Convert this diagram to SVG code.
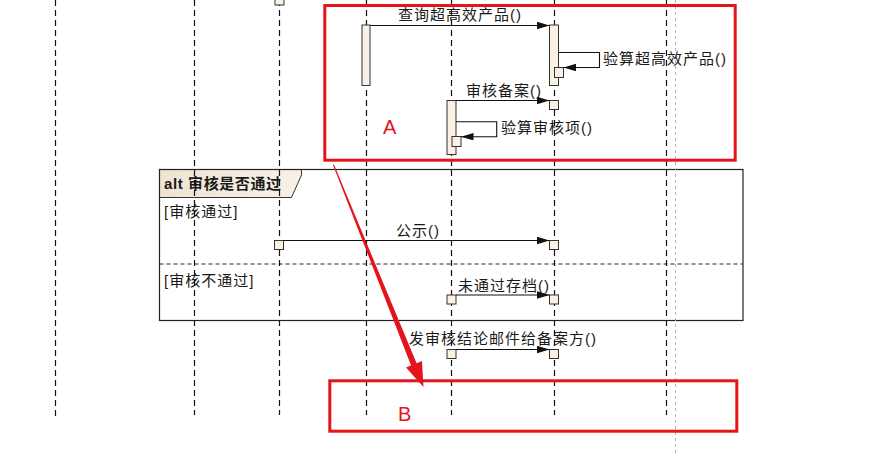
<svg xmlns="http://www.w3.org/2000/svg" width="888" height="453" viewBox="0 0 888 453">
<style>
.ll{stroke:#111;stroke-width:1.2;stroke-dasharray:6,4;fill:none}
.act{fill:#fbf0e4;stroke:#333;stroke-width:1}
.msg{stroke:#111;stroke-width:1.1;fill:none}
.t{font-family:"Liberation Sans","Noto Sans CJK SC",sans-serif;font-size:15px;letter-spacing:1px;fill:#1a1a1a}
.red{fill:none;stroke:#e3141c;stroke-width:3}
.rt{font-family:"Liberation Sans",sans-serif;font-size:20px;fill:#e3141c}
</style>
<defs>
<marker id="ah" markerUnits="userSpaceOnUse" markerWidth="13" markerHeight="8" refX="12.5" refY="3.75" orient="auto">
<path d="M0,0 L12.5,3.75 L0,7.5 z" fill="#111"/>
</marker>
<linearGradient id="tabg" x1="0" y1="0" x2="1" y2="0">
<stop offset="0" stop-color="#efe3d2"/>
<stop offset="1" stop-color="#f8f1e8"/>
</linearGradient>
</defs>
<rect x="0" y="0" width="888" height="453" fill="#ffffff"/>

<g id="alt-frame">
<path d="M159,169.5 H301.5 V175 L291.5,197.5 H159 Z" fill="url(#tabg)" stroke="none"/>
<path d="M159,197.5 H291.5 L301.5,175 V169.5" fill="none" stroke="#333" stroke-width="1"/>
<rect x="159.5" y="169.5" width="583.5" height="151" fill="none" stroke="#222" stroke-width="1.2"/>
<line x1="159.5" y1="264" x2="743" y2="264" stroke="#222" stroke-width="1" stroke-dasharray="4,3"/>
<text x="164" y="189" class="t" style="font-weight:bold;letter-spacing:0.6px">alt 审核是否通过</text>
<text x="164" y="217" class="t">[审核通过]</text>
<text x="164" y="286" class="t">[审核不通过]</text>
</g>

<g id="lifelines">
<line class="ll" x1="55.5" y1="0" x2="55.5" y2="416"/>
<line class="ll" x1="194.5" y1="0" x2="194.5" y2="415"/>
<line class="ll" x1="279.5" y1="0" x2="279.5" y2="415"/>
<line class="ll" x1="366.5" y1="0" x2="366.5" y2="415"/>
<line class="ll" x1="451.5" y1="0" x2="451.5" y2="415"/>
<line class="ll" x1="554.5" y1="0" x2="554.5" y2="415"/>
<line class="ll" x1="666.5" y1="0" x2="666.5" y2="415"/>
<line x1="675.5" y1="0" x2="675.5" y2="453" stroke="#b5b5b5" stroke-width="1" stroke-dasharray="3,3"/>
</g>

<g id="activations">
<rect class="act" x="275" y="-4" width="9" height="9"/>
<rect class="act" x="362" y="25" width="8" height="60.5"/>
<rect class="act" x="549.5" y="25" width="9" height="60.5"/>
<rect class="act" x="554.5" y="67.5" width="9" height="10"/>
<rect class="act" x="549.5" y="100.5" width="9" height="9"/>
<rect class="act" x="447" y="100.5" width="9" height="54"/>
<rect class="act" x="452" y="136.5" width="9" height="10"/>
<rect class="act" x="274.5" y="240.5" width="9" height="9"/>
<rect class="act" x="549.5" y="240.5" width="9" height="9"/>
<rect class="act" x="447" y="295" width="9" height="9"/>
<rect class="act" x="549.5" y="295" width="9" height="9"/>
<rect class="act" x="447" y="349.5" width="9" height="9"/>
<rect class="act" x="549.5" y="349.5" width="9" height="9"/>
</g>

<g id="connectors">
<path class="msg" d="M370,25.5 H549.5" marker-end="url(#ah)"/>
<path class="msg" d="M558.5,52.5 H599.5 V67.5 H563.5" marker-end="url(#ah)"/>
<path class="msg" d="M456,100.5 H549.5" marker-end="url(#ah)"/>
<path class="msg" d="M456,121.7 H496.7 V136.7 H461" marker-end="url(#ah)"/>
<path class="msg" d="M283.5,240.5 H549.5" marker-end="url(#ah)"/>
<path class="msg" d="M456,295 H549.5" marker-end="url(#ah)"/>
<path class="msg" d="M456,349.5 H549.5" marker-end="url(#ah)"/>
</g>

<g id="labels">
<text x="398" y="20" class="t">查询超高效产品()</text>
<text x="603" y="64" class="t">验算超高效产品()</text>
<text x="466" y="96" class="t">审核备案()</text>
<text x="501" y="133" class="t">验算审核项()</text>
<text x="396" y="236" class="t">公示()</text>
<text x="458" y="291" class="t">未通过存档()</text>
<text x="409" y="344" class="t">发审核结论邮件给备案方()</text>
</g>

<g id="box-A">
<rect class="red" x="324.8" y="5.5" width="410.4" height="154.7"/>
<text x="383" y="133.5" class="rt">A</text>
</g>
<g id="box-B">
<rect class="red" x="329.8" y="380.8" width="407" height="50.4"/>
<text x="398" y="420.5" class="rt">B</text>
</g>
<g id="red-arrow">
<polygon points="333,165 334,164.6 416.6,363.2 421.9,361 423.5,387 406,367.4 411.1,365.4" fill="#e3141c"/>
</g>
</svg>
